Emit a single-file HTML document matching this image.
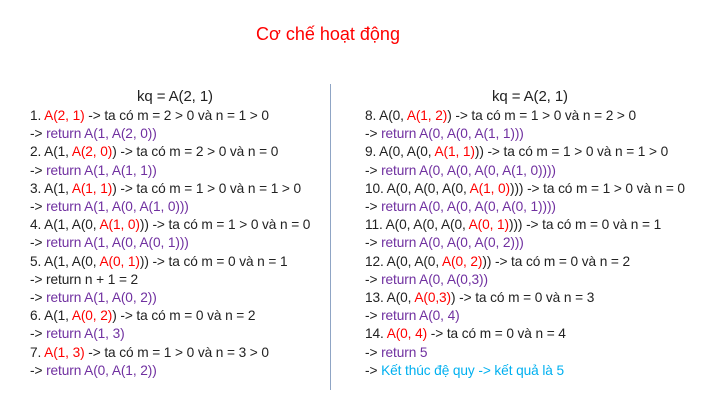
<!DOCTYPE html>
<html><head><meta charset="utf-8"><style>
body{margin:0;width:705px;height:416px;background:#fff;position:relative;overflow:hidden;font-family:"Liberation Sans",sans-serif;}
.t{position:absolute;left:228px;width:200px;top:24px;text-align:center;color:#ff0000;font-size:18px;}
.col{position:absolute;top:87px;font-size:13.7px;line-height:18.2px;color:#222;white-space:nowrap;letter-spacing:-0.1px;}
.h{font-size:15px;text-align:center;line-height:20px;}
.r{color:#ff0000}.p{color:#7030a0}.c{color:#00b0f0}
.div{position:absolute;left:330px;top:84px;width:1px;height:306px;background:#8fa5c5;}
</style></head><body>
<div class="t">Cơ chế hoạt động</div>
<div class="div"></div>
<div class="col" style="left:30px;width:290px">
<div class="h">kq = A(2, 1)</div>
<div>1. <span class="r">A(2, 1)</span> -&gt; ta có m = 2 &gt; 0 và n = 1 &gt; 0</div>
<div>-&gt; <span class="p">return A(1, A(2, 0))</span></div>
<div>2. A(1, <span class="r">A(2, 0)</span>) -&gt; ta có m = 2 &gt; 0 và n = 0</div>
<div>-&gt; <span class="p">return A(1, A(1, 1))</span></div>
<div>3. A(1, <span class="r">A(1, 1)</span>) -&gt; ta có m = 1 &gt; 0 và n = 1 &gt; 0</div>
<div>-&gt; <span class="p">return A(1, A(0, A(1, 0)))</span></div>
<div>4. A(1, A(0, <span class="r">A(1, 0)</span>)) -&gt; ta có m = 1 &gt; 0 và n = 0</div>
<div>-&gt; <span class="p">return A(1, A(0, A(0, 1)))</span></div>
<div>5. A(1, A(0, <span class="r">A(0, 1)</span>)) -&gt; ta có m = 0 và n = 1</div>
<div>-&gt; return n + 1 = 2</div>
<div>-&gt; <span class="p">return A(1, A(0, 2))</span></div>
<div>6. A(1, <span class="r">A(0, 2)</span>) -&gt; ta có m = 0 và n = 2</div>
<div>-&gt; <span class="p">return A(1, 3)</span></div>
<div>7. <span class="r">A(1, 3)</span> -&gt; ta có m = 1 &gt; 0 và n = 3 &gt; 0</div>
<div>-&gt; <span class="p">return A(0, A(1, 2))</span></div>
</div>
<div class="col" style="left:365px;width:300px">
<div class="h" style="padding-left:30px">kq = A(2, 1)</div>
<div>8. A(0, <span class="r">A(1, 2)</span>) -&gt; ta có m = 1 &gt; 0 và n = 2 &gt; 0</div>
<div>-&gt; <span class="p">return A(0, A(0, A(1, 1)))</span></div>
<div>9. A(0, A(0, <span class="r">A(1, 1)</span>)) -&gt; ta có m = 1 &gt; 0 và n = 1 &gt; 0</div>
<div>-&gt; <span class="p">return A(0, A(0, A(0, A(1, 0))))</span></div>
<div>10. A(0, A(0, A(0, <span class="r">A(1, 0)</span>))) -&gt; ta có m = 1 &gt; 0 và n = 0</div>
<div>-&gt; <span class="p">return A(0, A(0, A(0, A(0, 1))))</span></div>
<div>11. A(0, A(0, A(0, <span class="r">A(0, 1)</span>))) -&gt; ta có m = 0 và n = 1</div>
<div>-&gt; <span class="p">return A(0, A(0, A(0, 2)))</span></div>
<div>12. A(0, A(0, <span class="r">A(0, 2)</span>)) -&gt; ta có m = 0 và n = 2</div>
<div>-&gt; <span class="p">return A(0, A(0,3))</span></div>
<div>13. A(0, <span class="r">A(0,3)</span>) -&gt; ta có m = 0 và n = 3</div>
<div>-&gt; <span class="p">return A(0, 4)</span></div>
<div>14. <span class="r">A(0, 4)</span> -&gt; ta có m = 0 và n = 4</div>
<div>-&gt; <span class="p">return 5</span></div>
<div>-&gt; <span class="c">Kết thúc đệ quy -&gt; kết quả là 5</span></div>
</div>
</body></html>
